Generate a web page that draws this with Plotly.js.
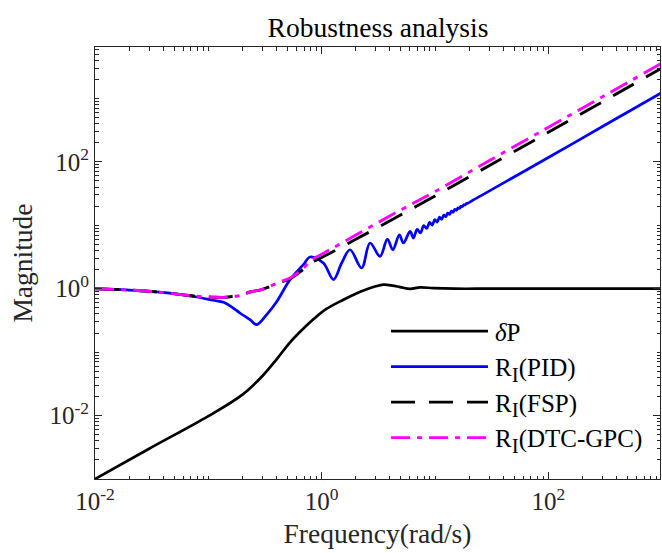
<!DOCTYPE html>
<html><head><meta charset="utf-8">
<script src="https://cdn.plot.ly/plotly-3.0.1.min.js"></script>
<style>html,body{margin:0;padding:0;background:#fff;} #chart{width:662px;height:553px;}</style>
</head><body><div id="chart"></div>
<script>
// delta P
const freqDP = [0.01, 0.03, 0.1, 0.2, 0.3, 0.4, 0.526, 0.69, 0.845, 1.1, 1.556, 2.0, 2.5, 3.0, 3.51, 4.2, 4.92, 6.03, 7.38, 9.7, 15, 30, 100, 1000];
const magDP  = [0.001, 0.003, 0.0098, 0.0214, 0.042, 0.077, 0.143, 0.236, 0.33, 0.48, 0.671, 0.834, 0.98, 1.09, 1.156, 1.12, 1.06, 0.99, 1.05, 1.02, 1.0, 1.0, 1.0, 1.0];
// R_I (PID)
const freqPID = [0.01, 0.02, 0.035, 0.06, 0.079, 0.11, 0.136, 0.165, 0.19, 0.233, 0.267, 0.327, 0.402, 0.526, 0.69, 0.79, 1.035, 1.27, 1.5, 1.78, 2.25, 2.67, 3.27, 3.8, 4.24, 4.85, 5.26, 6.03, 6.45, 6.95, 7.45, 7.95, 8.45, 8.95, 9.45, 9.95, 10.45, 10.95, 11.45, 11.95, 12.45, 12.95, 13.45, 13.95, 14.45, 14.95, 15.45, 15.95, 16.45, 16.95, 17.45, 17.95, 18.45, 18.95, 19.45, 22, 30, 100, 300, 1000];
const magPID  = [1.0, 0.95, 0.89, 0.8, 0.74, 0.657, 0.61, 0.50, 0.414, 0.325, 0.271, 0.39, 0.63, 1.39, 2.39, 3.16, 2.54, 1.39, 2.54, 4.11, 2.12, 5.25, 3.23, 6.06, 4.11, 7.08, 5.25, 7.98, 6.29, 8.6, 7.6, 9.9, 8.9, 11.1, 10.06, 12.3, 11.23, 13.41, 12.42, 14.5, 13.64, 15.59, 14.82, 16.7, 16.01, 17.79, 17.22, 18.87, 18.44, 19.94, 19.68, 20.99, 20.93, 22.03, 22.19, 25.3, 34.5, 117, 360, 1230];
// R_I (FSP)
const freqFSP = [0.01, 0.02, 0.035, 0.06, 0.079, 0.11, 0.136, 0.166, 0.19, 0.233, 0.29, 0.35, 0.43, 0.526, 0.69, 0.82, 1, 2, 5, 10, 30, 100, 300, 1000];
const magFSP  = [1.0, 0.95, 0.89, 0.8, 0.76, 0.735, 0.73, 0.757, 0.776, 0.887, 0.96, 1.08, 1.26, 1.43, 2.02, 2.6, 3.1, 6.0, 14.6, 29, 87, 292, 880, 3000];
// R_I (DTC-GPC)
const freqDTC = [0.01, 0.02, 0.035, 0.06, 0.079, 0.11, 0.136, 0.166, 0.19, 0.233, 0.29, 0.35, 0.43, 0.526, 0.69, 0.82, 1, 2, 5, 10, 30, 100, 300, 1000];
const magDTC  = [1.0, 0.95, 0.89, 0.8, 0.76, 0.735, 0.73, 0.757, 0.776, 0.887, 0.96, 1.09, 1.29, 1.47, 2.12, 2.86, 3.5, 7.0, 17.5, 34, 104, 350, 1060, 3600];

const SUB_I = '<sub><span style="font-size:21px">I</span></sub>';
const seriesNames = ['<i>δ</i>P', 'R' + SUB_I + '(PID)', 'R' + SUB_I + '(FSP)', 'R' + SUB_I + '(DTC-GPC)'];
const xTickVals = [0.01, 1, 100];
const xTickText = ['10<sup>-2</sup>', '10<sup>0</sup>', '10<sup>2</sup>'];
const yTickVals = [0.01, 1, 100];
const yTickText = ['10<sup>-2</sup>', '10<sup>0</sup>', '10<sup>2</sup>'];

const FONT = '"Liberation Serif", "Times New Roman", serif';
const AX = '#262626';

const traces = [
  {x: freqDP, y: magDP, name: seriesNames[0], mode: 'lines', line: {color: '#000000', width: 2.7, shape: 'spline', smoothing: 1}},
  {x: freqPID, y: magPID, name: seriesNames[1], mode: 'lines', line: {color: 'rgb(0,0,255)', width: 2.7, shape: 'spline', smoothing: 1}},
  {x: freqFSP, y: magFSP, name: seriesNames[2], mode: 'lines', line: {color: '#000000', width: 2.9, dash: '24px,14px', shape: 'spline', smoothing: 1}},
  {x: freqDTC, y: magDTC, name: seriesNames[3], mode: 'lines', line: {color: 'rgb(255,0,255)', width: 2.9, dash: '19px,7px,5px,7px', shape: 'spline', smoothing: 1}}
];

const axisCommon = {
  type: 'log', showgrid: false, zeroline: false,
  showline: true, linecolor: AX, linewidth: 1, mirror: 'allticks',
  ticks: 'inside', ticklen: 7, tickwidth: 1, tickcolor: AX,
  tickmode: 'array',
  tickfont: {family: FONT, size: 25, color: AX},
  minor: {ticks: 'inside', ticklen: 3.5, tickwidth: 1, tickcolor: AX, tickmode: 'linear', dtick: 'D1', showgrid: false}
};

const layout = {
  width: 662, height: 553,
  margin: {l: 95, r: 2, t: 47, b: 74, pad: 0},
  paper_bgcolor: '#ffffff', plot_bgcolor: '#ffffff',
  font: {family: FONT, color: AX},
  title: {text: 'Robustness analysis', font: {family: FONT, size: 27.5, color: '#000'}, x: 0.571, xanchor: 'center', xref: 'container', y: 0.951, yanchor: 'middle', yref: 'container'},
  xaxis: Object.assign({}, axisCommon, {
    range: [-2, 2.985], tickvals: xTickVals, ticktext: xTickText,
    title: {text: 'Frequency(rad/s)', font: {family: FONT, size: 27.5, color: AX}, standoff: 9}
  }),
  yaxis: Object.assign({}, axisCommon, {
    range: [-3, 3.81], tickvals: yTickVals, ticktext: yTickText,
    title: {text: 'Magnitude', font: {family: FONT, size: 27.5, color: AX}, standoff: 8}
  }),
  showlegend: true,
  legend: {
    x: 0.515, xanchor: 'left', y: 0.395, yanchor: 'top',
    bgcolor: 'rgba(0,0,0,0)', borderwidth: 0,
    font: {family: FONT, size: 25, color: '#000'},
    itemwidth: 99, traceorder: 'normal'
  }
};

Plotly.newPlot('chart', traces, layout, {staticPlot: true, displayModeBar: false}).then(function () {
  document.querySelectorAll('.legend .legendlines path').forEach(function (p) {
    p.setAttribute('d', 'M5,0h97');
  });
});
</script></body></html>
